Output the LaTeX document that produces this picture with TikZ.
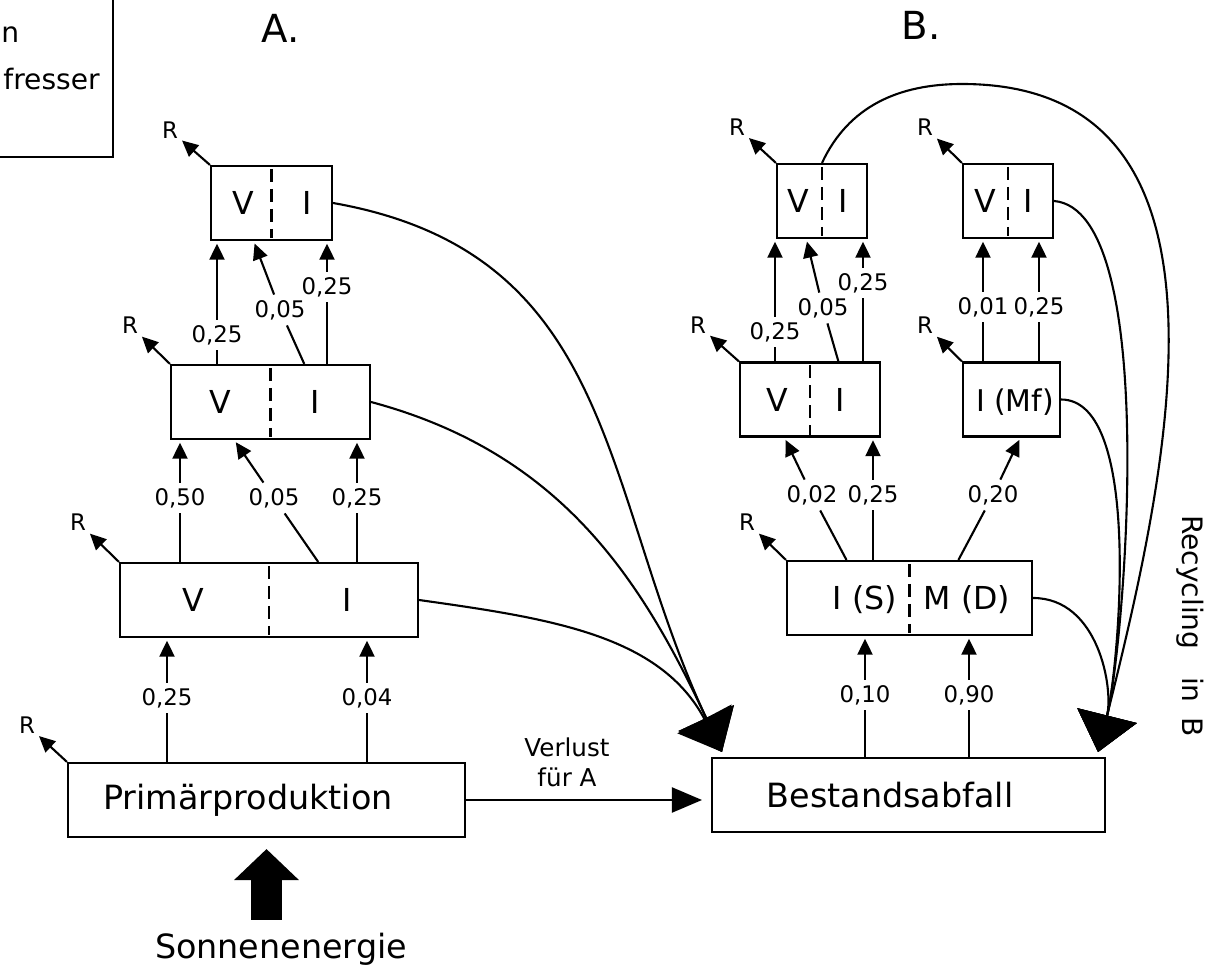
\documentclass[tikz,border=0pt]{standalone}
\usepackage{fontspec}
\setmainfont{DejaVu Sans}
\usetikzlibrary{arrows.meta,calc}

\tikzset{
	box/.style={draw, line width=1.2pt, minimum height=1.48cm, inner sep=0pt},
	cut/.style={line width=1.2pt, dash pattern=on 0.26cm off 0.14cm, shorten <=0.08cm, shorten >=0.06cm},
	part/.style={anchor=base, font=\fontsize{18}{18}\selectfont, inner sep=0pt},
	big/.style={anchor=base, font=\fontsize{19}{19}\selectfont, inner sep=0pt},
	val/.style={font=\fontsize{13}{13}\selectfont, inner sep=3pt},
	resp/.style={font=\fontsize{13}{13}\selectfont, inner sep=1pt},
	feed/.style={line width=1.2pt},
	up/.style={line width=1.2pt, -{Triangle[length=0.32cm,width=0.3cm]}, shorten >=1.5pt},
	dump/.style={line width=1.2pt, -{Triangle[length=0.75cm,width=1.22cm]}},
}

\begin{document}
\begin{tikzpicture}[x=0.02cm, y=-0.02cm]
	\useasboundingbox (0,0) rectangle (1215,969);
	\clip (0,0) rectangle (1215,969);

	% legend box, cut off at the left edge
	\draw[line width=1.2pt] (113,-10) -- (113,157) -- (-10,157);
	\node[anchor=base west, font=\fontsize{16}{16}\selectfont, inner sep=0pt] (lg1) at (1,43) {n};
	\node[anchor=base east, font=\fontsize{16}{16}\selectfont, inner sep=0pt] (lg2) at (100,90) {fresser};

	\node[font=\fontsize{22}{22}\selectfont] (ta) at (281,28) {A.};
	\node[font=\fontsize{22}{22}\selectfont] (tb) at (921,25) {B.};

	% A. boxes
	\node[box, minimum width=7.94cm] (prim) at (266.5,800) {};
	\node[big] (primtxt) at (248,809) {Primärproduktion};
	\node[box, minimum width=5.96cm] (a1) at (269,600) {};
	\node[box, minimum width=3.98cm] (a2) at (270.5,402) {};
	\node[box, minimum width=2.42cm] (a3) at (271.5,203) {};
	\draw[cut] (a1.north) -- (a1.south);
	\draw[cut] (a2.north) -- (a2.south);
	\draw[cut] (a3.north) -- (a3.south);
	\node[part] (a1v) at (193,612) {V};
	\node[part] (a1i) at (347,612) {I};
	\node[part] (a2v) at (220,414) {V};
	\node[part] (a2i) at (315,414) {I};
	\node[part] (a3v) at (243,215) {V};
	\node[part] (a3i) at (307,215) {I};

	% B. boxes
	\node[box, minimum width=7.86cm] (best) at (908.5,795) {};
	\node[big] (besttxt) at (890,807) {Bestandsabfall};
	\node[box, minimum width=4.9cm] (b1) at (909.5,598) {};
	\node[box, minimum width=2.8cm] (b2l) at (810,399.5) {};
	\node[box, minimum width=1.94cm] (b2r) at (1011.5,399.5) {};
	\node[box, minimum width=1.8cm] (b3a) at (822,201) {};
	\node[box, minimum width=1.8cm] (b3b) at (1008,201) {};
	\draw[cut] (b1.north) -- (b1.south);
	\draw[cut] (b2l.north) -- (b2l.south);
	\draw[cut] (b3a.north) -- (b3a.south);
	\draw[cut] (b3b.north) -- (b3b.south);
	\node[part] (b1i) at (865,610) {I (S)};
	\node[part] (b1m) at (967,610) {M (D)};
	\node[part] (b2v) at (777,412) {V};
	\node[part] (b2i) at (840,412) {I};
	\node[part, font=\fontsize{17}{17}\selectfont] (b2m) at (1015,412) {I (Mf)};
	\node[part] (b3av) at (798,213) {V};
	\node[part] (b3ai) at (843,213) {I};
	\node[part] (b3bv) at (985,213) {V};
	\node[part] (b3bi) at (1028,213) {I};

	% shares A.
	\node[val] (p1) at (167,698) {0,25};
	\node[val] (p2) at (367,698) {0,04};
	\draw[feed] (p1 |- prim.north) -- (p1);  \draw[up] (p1) -- (p1 |- a1.south);
	\draw[feed] (p2 |- prim.north) -- (p2);  \draw[up] (p2) -- (p2 |- a1.south);

	\node[val] (q1) at (180,498) {0,50};
	\node[val] (q2) at (274,498) {0,05};
	\node[val] (q3) at (357,498) {0,25};
	\draw[feed] (q1 |- a1.north) -- (q1);  \draw[up] (q1) -- (q1 |- a2.south);
	\draw[feed] ($(a1.north west)!.664!(a1.north east)$) -- (q2);
	\draw[up] (q2) -- ($(a2.south west)!.32!(a2.south east)$);
	\draw[feed] (q3 |- a1.north) -- (q3);  \draw[up] (q3) -- (q3 |- a2.south);

	\node[val] (s1) at (217,335) {0,25};
	\node[val] (s2) at (280,310) {0,05};
	\node[val] (s3) at (327,287) {0,25};
	\draw[feed] (s1 |- a2.north) -- (s1);  \draw[up] (s1) -- (s1 |- a3.south);
	\draw[feed] ($(a2.north west)!.668!(a2.north east)$) -- (s2);
	\draw[up] (s2) -- ($(a3.south west)!.355!(a3.south east)$);
	\draw[feed] (s3 |- a2.north) -- (s3);  \draw[up] (s3) -- (s3 |- a3.south);

	% shares B.
	\node[val] (m1) at (865,695) {0,10};
	\node[val] (m2) at (969,695) {0,90};
	\draw[feed] (m1 |- best.north) -- (m1);  \draw[up] (m1) -- (m1 |- b1.south);
	\draw[feed] (m2 |- best.north) -- (m2);  \draw[up] (m2) -- (m2 |- b1.south);

	\node[val] (n1) at (812,495) {0,02};
	\node[val] (n2) at (873,495) {0,25};
	\node[val] (n3) at (993,495) {0,20};
	\draw[feed] ($(b1.north west)!.245!(b1.north east)$) -- (n1);
	\draw[up] (n1) -- ($(b2l.south west)!.32!(b2l.south east)$);
	\draw[feed] (n2 |- b1.north) -- (n2);  \draw[up] (n2) -- (n2 |- b2l.south);
	\draw[feed] ($(b1.north west)!.698!(b1.north east)$) -- (n3);
	\draw[up] (n3) -- ($(b2r.south west)!.59!(b2r.south east)$);

	\node[val] (k1) at (775,332) {0,25};
	\node[val] (k2) at (823,308) {0,05};
	\node[val] (k3) at (863,283) {0,25};
	\node[val] (k4) at (983,307) {0,01};
	\node[val] (k5) at (1039,307) {0,25};
	\draw[feed] (k1 |- b2l.north) -- (k1);  \draw[up] (k1) -- (k1 |- b3a.south);
	\draw[feed] ($(b2l.north west)!.7!(b2l.north east)$) -- (k2);
	\draw[up] (k2) -- ($(b3a.south west)!.33!(b3a.south east)$);
	\draw[feed] (k3 |- b2l.north) -- (k3);  \draw[up] (k3) -- (k3 |- b3a.south);
	\draw[feed] (k4 |- b2r.north) -- (k4);  \draw[up] (k4) -- (k4 |- b3b.south);
	\draw[feed] (k5 |- b2r.north) -- (k5);  \draw[up] (k5) -- (k5 |- b3b.south);

	% respiration
	\node[resp] (r0) at (27,725) {R};
	\node[resp] (r1) at (78,522) {R};
	\node[resp] (r2) at (130,325) {R};
	\node[resp] (r3) at (170,130) {R};
	\node[resp] (r4) at (747,522) {R};
	\node[resp] (r5) at (698,325) {R};
	\node[resp] (r6) at (925,325) {R};
	\node[resp] (r7) at (737,127) {R};
	\node[resp] (r8) at (925,127) {R};
	\draw[up] (prim.north west) -- (r0);
	\draw[up] (a1.north west) -- (r1);
	\draw[up] (a2.north west) -- (r2);
	\draw[up] (a3.north west) -- (r3);
	\draw[up] (b1.north west) -- (r4);
	\draw[up] (b2l.north west) -- (r5);
	\draw[up] (b2r.north west) -- (r6);
	\draw[up] (b3a.north west) -- (r7);
	\draw[up] (b3b.north west) -- (r8);

	% dead matter
	\coordinate (sinkA) at (722,752);
	\coordinate (sinkB) at (1098,752);
	\coordinate (arcTop) at (962,84);
	\draw[dump] (a3.east) to[out=-10,in=115,looseness=1.1] (sinkA);
	\draw[dump] (a2.east) to[out=-15,in=115] (sinkA);
	\draw[dump] (a1.east) to[out=-8,in=118] (sinkA);
	\draw[dump] (b3a.north) to[out=65,in=180] (arcTop) to[out=0,in=76,looseness=1.1] (sinkB);
	\draw[dump] (b3b.east) to[out=-5,in=76,looseness=0.5] (sinkB);
	\draw[dump] (b2r.east) to[out=0,in=76,looseness=0.6] (sinkB);
	\draw[dump] (b1.east) to[out=0,in=76] (sinkB);
	\node[rotate=-90, font=\fontsize{16}{16}\selectfont] (recyc) at (1190,626) {Recycling\hspace{0.55cm}in\hspace{0.3cm}B};

	% loss and sun
	\node[align=center, font=\fontsize{14}{17}\selectfont] (verl) at (567,762) {Verlust\\für A};
	\draw[line width=1.2pt, -{Triangle[length=0.6cm,width=0.5cm]}, shorten >=0.18cm] (prim.east) -- (prim.east -| best.west);
	\node[font=\fontsize{19}{19}\selectfont, inner sep=2pt] (sonne) at (281,949) {Sonnenenergie};
	\draw[line width=0.64cm, -{Triangle[length=0.62cm,width=1.26cm]}, shorten <=0.18cm, shorten >=0.22cm] (prim.south |- sonne.north) -- (prim.south);
\end{tikzpicture}
\end{document}
